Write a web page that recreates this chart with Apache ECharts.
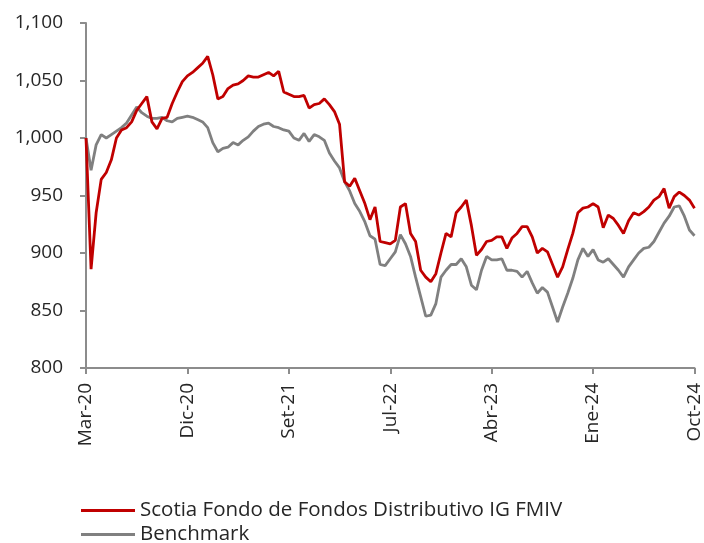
<!DOCTYPE html>
<html>
<head>
<meta charset="utf-8">
<script src="https://cdn.jsdelivr.net/npm/echarts@6/dist/echarts.min.js"></script>
<style>
html,body{margin:0;padding:0;background:#fff;}
#chart{width:704px;height:543px;}
</style>
</head>
<body>
<div id="chart"></div>
<script>
// Tick labels on the x axis (one every 20 points)
var tickLabels = ['Mar-20','Dic-20','Set-21','Jul-22','Abr-23','Ene-24','Oct-24'];
var tickStep = 20;

// Series values (~every two weeks)
var fundValues = [
  1000, 886, 935, 964, 970, 981, 1000, 1007, 1009, 1014,
  1024, 1030, 1036, 1014, 1008, 1017, 1018, 1030, 1040, 1049,
  1054, 1057, 1061, 1065, 1071, 1055, 1034, 1036, 1043, 1046,
  1047, 1050, 1054, 1053, 1053, 1055, 1057, 1054, 1058, 1040,
  1038, 1036, 1036, 1037, 1026, 1029, 1030, 1034, 1029, 1023,
  1012, 962, 958, 965, 954, 943, 929, 940, 910, 909,
  908, 911, 940, 943, 917, 910, 885, 879, 875, 882,
  900, 917, 914, 935, 940, 946, 924, 898, 903, 910,
  911, 914, 914, 904, 913, 917, 923, 923, 914, 900,
  904, 901, 890, 879, 888, 903, 917, 935, 939, 940,
  943, 940, 922, 933, 930, 924, 917, 928, 935, 933,
  936, 940, 946, 949, 956, 939, 949, 953, 950, 946,
  939
];
var benchValues = [
  1000, 972, 994, 1003, 1000, 1003, 1006, 1009, 1013, 1020,
  1027, 1022, 1019, 1017, 1017, 1018, 1015, 1014, 1017, 1018,
  1019, 1018, 1016, 1014, 1009, 996, 988, 991, 992, 996,
  994, 998, 1001, 1006, 1010, 1012, 1013, 1010, 1009, 1007,
  1006, 1000, 998, 1004, 997, 1003, 1001, 998, 987, 980,
  974, 962, 954, 943, 936, 927, 915, 912, 890, 889,
  895, 901, 916, 908, 897, 879, 862, 845, 846, 856,
  879, 885, 890, 890, 895, 888, 872, 868, 885, 897,
  894, 894, 895, 885, 885, 884, 879, 884, 874, 865,
  870, 866, 853, 840, 853, 865, 878, 894, 904, 897,
  903, 894, 892, 895, 890, 885, 879, 888, 894, 900,
  904, 905, 910, 918, 926, 932, 940, 941, 932, 920,
  915
];

// Categories: one date every 14 days starting 1 Mar 2020
var categories = [];
(function(){
  var start = Date.UTC(2020, 2, 1);
  for (var i = 0; i < fundValues.length; i++) {
    var d = new Date(start + i * 14 * 86400000);
    categories.push(d.toISOString().slice(0, 10));
  }
})();

var seriesNames = ['Scotia Fondo de Fondos Distributivo IG FMIV', 'Benchmark'];

var chart = echarts.init(document.getElementById('chart'), null, {renderer: 'canvas'});
var axisGray = '#8c8c8c';
var textDark = '#262626';
var legendText = {fontFamily: 'Open Sans', fontSize: 20.5, color: textDark, lineHeight: 20};
function makeLegend(name, top) {
  return {
    orient: 'vertical',
    left: 81,
    top: top,
    padding: 0,
    icon: 'rect',
    itemWidth: 54,
    itemHeight: 3,
    textStyle: legendText,
    data: [name]
  };
}
chart.setOption({
  animation: false,
  backgroundColor: '#ffffff',
  grid: {left: 86, right: 8, top: 23, bottom: 175, containLabel: false},
  legend: [makeLegend(seriesNames[0], 500), makeLegend(seriesNames[1], 524)],
  xAxis: {
    type: 'category',
    data: categories,
    boundaryGap: false,
    axisLine: {lineStyle: {color: axisGray, width: 2}},
    axisTick: {
      alignWithLabel: true,
      length: 6,
      interval: function(i){ return i % tickStep === 0; },
      lineStyle: {color: axisGray, width: 2}
    },
    axisLabel: {
      interval: function(i){ return i % tickStep === 0; },
      rotate: 90,
      margin: 15,
      fontFamily: 'Open Sans',
      fontSize: 19,
      color: textDark,
      formatter: function(v, i){ return tickLabels[i / tickStep]; }
    },
    splitLine: {show: false}
  },
  yAxis: {
    type: 'value',
    min: 800,
    max: 1100,
    interval: 50,
    axisLine: {show: true, lineStyle: {color: axisGray, width: 2}},
    axisTick: {show: true, length: 6, lineStyle: {color: axisGray, width: 2}},
    axisLabel: {
      margin: 23,
      fontFamily: 'Open Sans',
      fontSize: 19,
      color: textDark,
      formatter: function(v){ return v >= 1000 ? Math.floor(v/1000) + ',' + String(v % 1000).padStart(3, '0') : String(v); }
    },
    splitLine: {show: false}
  },
  series: [
    {
      name: seriesNames[0],
      type: 'line',
      data: fundValues,
      showSymbol: false,
      lineStyle: {color: '#c00000', width: 2.8},
      itemStyle: {color: '#c00000'},
      z: 3
    },
    {
      name: seriesNames[1],
      type: 'line',
      data: benchValues,
      showSymbol: false,
      lineStyle: {color: '#808080', width: 2.8},
      itemStyle: {color: '#808080'},
      z: 2
    }
  ]
});
</script>
</body>
</html>
